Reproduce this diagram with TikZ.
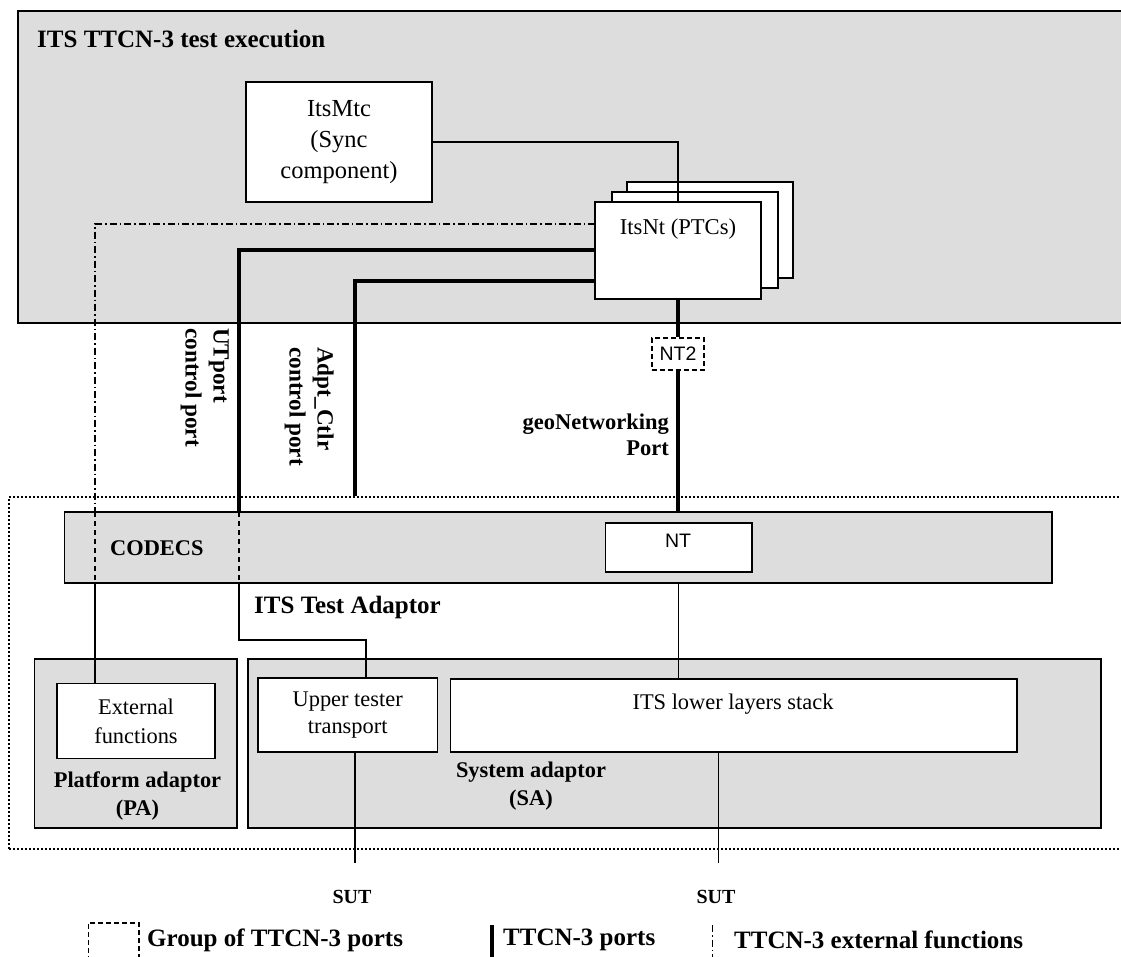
\documentclass[tikz,border=0pt]{standalone}
\usepackage{fontspec}
\setmainfont{Liberation Serif}
\newfontfamily\sansf{Liberation Sans}
\definecolor{boxgray}{RGB}{221,221,221}
\tikzset{
  frame/.style={draw, line width=1.6pt, inner sep=0pt, outer sep=0pt},
  graybox/.style={frame, fill=boxgray},
  whitebox/.style={frame, fill=white},
  txt/.style={inner sep=0pt, font=\fontsize{22.4}{29}\selectfont, align=center},
  head/.style={inner sep=0pt, font=\fontsize{22.4}{28}\selectfont\bfseries, align=center},
  legtxt/.style={inner sep=0pt, font=\fontsize{25}{28}\selectfont\bfseries, anchor=west},
  sanstxt/.style={inner sep=0pt, font=\fontsize{19.5}{22}\selectfont\sansf},
  port/.style={line width=3.2pt},
  conn/.style={line width=1.4pt},
  ddot/.style={line width=1.3pt, dash pattern=on 7pt off 3pt on 1.5pt off 3pt},
  dsh/.style={line width=1.4pt, dash pattern=on 5pt off 4pt},
  dotborder/.style={line width=2pt, dash pattern=on 2pt off 2pt},
}
\begin{document}
\begin{tikzpicture}[x=1pt,y=-1pt]
\clip (0,0) rectangle (1121,956);
\fill[white] (0,0) rectangle (1121,956);

% ---- TTCN-3 test execution ----
\node[graybox, minimum width=1112, minimum height=312] (exec) at (574,167) {};
\node[head, anchor=west, font=\fontsize{25}{28}\selectfont\bfseries] (title) at (37,39) {ITS TTCN-3 test execution};

\node[whitebox, txt, font=\fontsize{24.5}{31}\selectfont, minimum width=186, minimum height=120] (mtc) at (339,142) {ItsMtc\\(Sync\\component)};

\node[whitebox, minimum width=166, minimum height=96] (nt3) at (710,230) {};
\node[whitebox, minimum width=166, minimum height=96] (nt2) at (695,240) {};
\node[whitebox, minimum width=166, minimum height=97] (nt1) at (678,250.5) {};
\node[txt, font=\fontsize{22.6}{26}\selectfont] (ntlabel) at (678,229) {ItsNt (PTCs)};

\draw[conn] (mtc.east) -| (nt1.north);

% ---- coordinates of the vertical runs ----
\coordinate (ddx) at (95,0);
\coordinate (utx) at (239,0);
\coordinate (utq) at (366,0);
\coordinate (adx) at (355,0);

% ---- ITS Test Adaptor frame ----
\node[draw, dotborder, inner sep=0pt, minimum width=1121, minimum height=352] (ta) at (569.5,673) {};

% ---- CODECS ----
\node[graybox, minimum width=987.4, minimum height=71] (codecs) at (558.3,547.5) {};
\node[head, anchor=west] (codecslabel) at (110,548) {CODECS};
\node[whitebox, minimum width=146.5, minimum height=49] (nt) at (678.7,547.5) {};
\node[sanstxt] (ntlabel2) at (678,541) {NT};

% ---- NT2 group ----
\node[draw, line width=1.3pt, dash pattern=on 5pt off 3pt, fill=white, sanstxt, minimum width=52, minimum height=32] (nttwo) at (678,354) {NT2};

% ---- ports ----
\draw[port] (nt1.south) -- (nttwo.north);
\draw[port] (nttwo.south) -- (nttwo.south |- codecs.north);

\draw[ddot] (nt1.west |- 0,224) -| (ddx |- codecs.north);
\draw[dsh] (ddx |- codecs.north) -- (ddx |- codecs.south);

\draw[port] (nt1.west |- 0,250) -| (utx |- codecs.north);
\draw[dsh] (utx |- codecs.north) -- (utx |- codecs.south);

\draw[port] (nt1.west |- 0,281) -| (adx |- ta.north);

% ---- port labels ----
\node[head, font=\fontsize{23.2}{28}\selectfont\bfseries, rotate=-90, align=left, anchor=north west] (utlabel) at (229,328) {UTport\\control port};
\node[head, font=\fontsize{23.2}{28}\selectfont\bfseries, rotate=-90, align=left, anchor=north west] (adlabel) at (334,347) {Adpt\_Ctlr\\control port};
\node[head, align=right, anchor=east, font=\fontsize{22.5}{26}\selectfont\bfseries] (geolabel) at (669,435) {geoNetworking\\Port};

\node[head, anchor=west, font=\fontsize{25}{28}\selectfont\bfseries] (talabel) at (254,607) {ITS Test Adaptor};

% ---- Platform adaptor ----
\node[graybox, minimum width=202.4, minimum height=169] (pa) at (135.8,743.5) {};
\node[whitebox, txt, minimum width=158, minimum height=75] (extf) at (136,721) {External\\functions};
\node[head] (palabel) at (137.5,795.5) {Platform adaptor\\(PA)};

% ---- System adaptor ----
\node[graybox, minimum width=853, minimum height=169] (sa) at (674.5,743.5) {};
\node[whitebox, txt, font=\fontsize{22.4}{27}\selectfont, minimum width=179.5, minimum height=74] (utt) at (347.7,715) {Upper tester\\transport};
\node[whitebox, minimum width=566.3, minimum height=73] (lls) at (733.8,715.5) {};
\node[txt] (llslabel) at (733,704) {ITS lower layers stack};
\node[head] (salabel) at (531,786) {System adaptor\\(SA)};

% ---- connectors down to the adaptors ----
\draw[conn] (ddx |- codecs.south) -- (ddx |- extf.north);
\draw[conn] (utx |- codecs.south) -- (utx |- 0,640) -| (utq |- utt.north);
\draw[conn] (nt.south |- codecs.south) -- (nt.south |- lls.north);

% ---- SUT ----
\coordinate (s1) at (355,863);
\coordinate (s2) at (718.5,863);
\draw[conn] (s1 |- utt.south) -- (s1);
\draw[conn] (s2 |- lls.south) -- (s2);
\node[head, font=\fontsize{20}{22}\selectfont\bfseries] (sut1) at (352,897) {SUT};
\node[head, font=\fontsize{20}{22}\selectfont\bfseries] (sut2) at (716,897) {SUT};

% ---- legend ----
\node[draw, line width=1.3pt, dash pattern=on 5pt off 3pt, inner sep=0pt, minimum width=50.4, minimum height=50] (leggroup) at (113.8,948) {};
\node[legtxt] (leggrouptxt) at (147,940) {Group of TTCN-3 ports};
\coordinate (lp1) at (492,925);
\coordinate (lp2) at (492,960);
\draw[port] (lp1) -- (lp2);
\node[legtxt] (legporttxt) at (503,940) {TTCN-3 ports};
\coordinate (le1) at (712,925);
\coordinate (le2) at (712,960);
\draw[ddot, line width=1pt] (le1) -- (le2);
\node[legtxt] (legexttxt) at (734,940) {TTCN-3 external functions};
\end{tikzpicture}
\end{document}
